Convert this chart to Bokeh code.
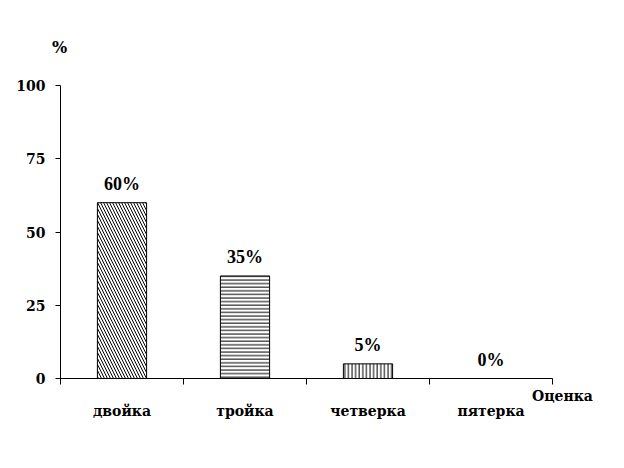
from bokeh.plotting import figure
from bokeh.models import Range1d, FixedTicker, Label, LabelSet, ColumnDataSource
from bokeh.embed import file_html
from bokeh.resources import INLINE

categories = ["двойка", "тройка", "четверка", "пятерка"]
values = [60, 35, 5, 0]
value_labels = ["60%", "35%", "5%", "0%"]
hatches = ["left_diagonal_line", "horizontal_line", "vertical_line", "blank"]
hatch_scales = [6, 3.6, 3.6, 3.6]
y_ticks = [0, 25, 50, 75, 100]
x_title = "Оценка"
y_title = "%"

FONT = "DejaVu Serif"
FS = "14px"
W, H = 600, 440
# pixel geometry of the plotting area (axes drawn at fixed locations inside a full-canvas frame)
X0, X1 = 60, 552     # pixel x of category 0 .. 4
Y0, Y100 = 378, 85   # pixel y of value 0 and 100
n = len(categories)
ppx = (X1 - X0) / n
ppy = (Y0 - Y100) / 100.0

xs = [i + 0.5 for i in range(n)]
src = ColumnDataSource(dict(x=xs, top=values, lab=value_labels, hatch=hatches, hs=hatch_scales))

p = figure(width=W, height=H, output_backend="svg", toolbar_location=None,
           x_range=Range1d(-X0 / ppx, (W - X0) / ppx),
           y_range=Range1d(-(H - Y0) / ppy, 100 + Y100 / ppy),
           min_border=0, min_border_left=0, min_border_right=0,
           min_border_top=0, min_border_bottom=0)
p.outline_line_color = None
p.xgrid.visible = False
p.ygrid.visible = False

p.vbar(x="x", top="top", width=0.4, bottom=0, source=src, fill_color="white",
       line_color="black", line_width=1, hatch_pattern="hatch", hatch_color="black",
       hatch_scale="hs", hatch_weight=1)

labels = LabelSet(x="x", y="top", text="lab", source=src, text_align="center",
                  text_baseline="bottom", y_offset=9, text_font=FONT,
                  text_font_style="bold", text_font_size="18px", text_color="black")
p.add_layout(labels)

# x axis
xa = p.xaxis[0]
xa.fixed_location = 0
xa.bounds = (0, n)
xa.ticker = FixedTicker(ticks=xs, minor_ticks=list(range(n + 1)))
xa.major_label_overrides = {x: c for x, c in zip(xs, categories)}
xa.major_tick_line_color = None
xa.minor_tick_out = 6
xa.minor_tick_in = 0
xa.minor_tick_line_color = "black"
xa.major_label_standoff = 18
xa.major_label_text_font = FONT
xa.major_label_text_font_style = "bold"
xa.major_label_text_font_size = FS
xa.major_label_text_color = "black"
xa.axis_line_color = "black"

# y axis
ya = p.yaxis[0]
ya.fixed_location = 0
ya.bounds = (0, 100)
ya.ticker = FixedTicker(ticks=y_ticks, minor_ticks=[])
ya.major_tick_out = 5
ya.major_tick_in = 0
ya.major_tick_line_color = "black"
ya.major_label_standoff = 10
ya.major_label_text_font = FONT
ya.major_label_text_font_style = "bold"
ya.major_label_text_font_size = FS
ya.major_label_text_color = "black"
ya.axis_line_color = "black"

p.add_layout(Label(x=-1 / ppx, y=100 + (Y100 - 47) / ppy, text=y_title,
                   text_align="center", text_baseline="middle", text_color="black",
                   text_font=FONT, text_font_style="bold", text_font_size="16px"))
p.add_layout(Label(x=(562 - X0) / ppx, y=-(395 - Y0) / ppy, text=x_title,
                   text_align="center", text_baseline="middle", text_color="black",
                   text_font=FONT, text_font_style="bold", text_font_size=FS))

open("out.html", "w").write(file_html(p, INLINE))
